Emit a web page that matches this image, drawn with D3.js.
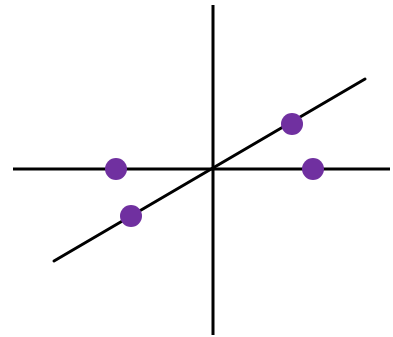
<!DOCTYPE html>
<html>
<head>
<meta charset="utf-8">
<script src="https://cdn.jsdelivr.net/npm/d3@7"></script>
<style>
  body { margin: 0; background: #fff; }
</style>
</head>
<body>
<div id="chart"></div>
<script>
// axis extents (data units)
const xAxisExtent = [-10, 8.85];
const yAxisExtent = [-8.3, 8.2];

// fitted line endpoints
const lineX = [-7.95, 7.6];
const lineY = [-4.6, 4.5];

// purple points
const pointX = [-4.85, 5.0, 3.95, -4.1];
const pointY = [0, 0, 2.25, -2.35];

const width = 393;
const height = 337;

// scales: origin sits at (213, 169)
const xScale = d3.scaleLinear()
  .domain([-10, 10])
  .range([13, 413]);

const yScale = d3.scaleLinear()
  .domain([-10, 10])
  .range([369, -31]);

const svg = d3.select("#chart")
  .append("svg")
  .attr("width", width)
  .attr("height", height);

// horizontal axis
svg.append("line")
  .attr("x1", xScale(xAxisExtent[0]))
  .attr("x2", xScale(xAxisExtent[1]))
  .attr("y1", yScale(0))
  .attr("y2", yScale(0))
  .attr("stroke", "#000")
  .attr("stroke-width", 3);

// vertical axis
svg.append("line")
  .attr("x1", xScale(0))
  .attr("x2", xScale(0))
  .attr("y1", yScale(yAxisExtent[0]))
  .attr("y2", yScale(yAxisExtent[1]))
  .attr("stroke", "#000")
  .attr("stroke-width", 3);

// the sloped line
const linePts = lineX.map((x, i) => [x, lineY[i]]);
svg.append("path")
  .datum(linePts)
  .attr("d", d3.line().x(d => xScale(d[0])).y(d => yScale(d[1])))
  .attr("stroke", "#000")
  .attr("stroke-width", 3)
  .attr("stroke-linecap", "round")
  .attr("fill", "none");

// points
const pts = pointX.map((x, i) => ({ x: x, y: pointY[i] }));
svg.selectAll("circle")
  .data(pts)
  .join("circle")
  .attr("cx", d => xScale(d.x))
  .attr("cy", d => yScale(d.y))
  .attr("r", 11)
  .attr("fill", "#7030a0");
</script>
</body>
</html>
